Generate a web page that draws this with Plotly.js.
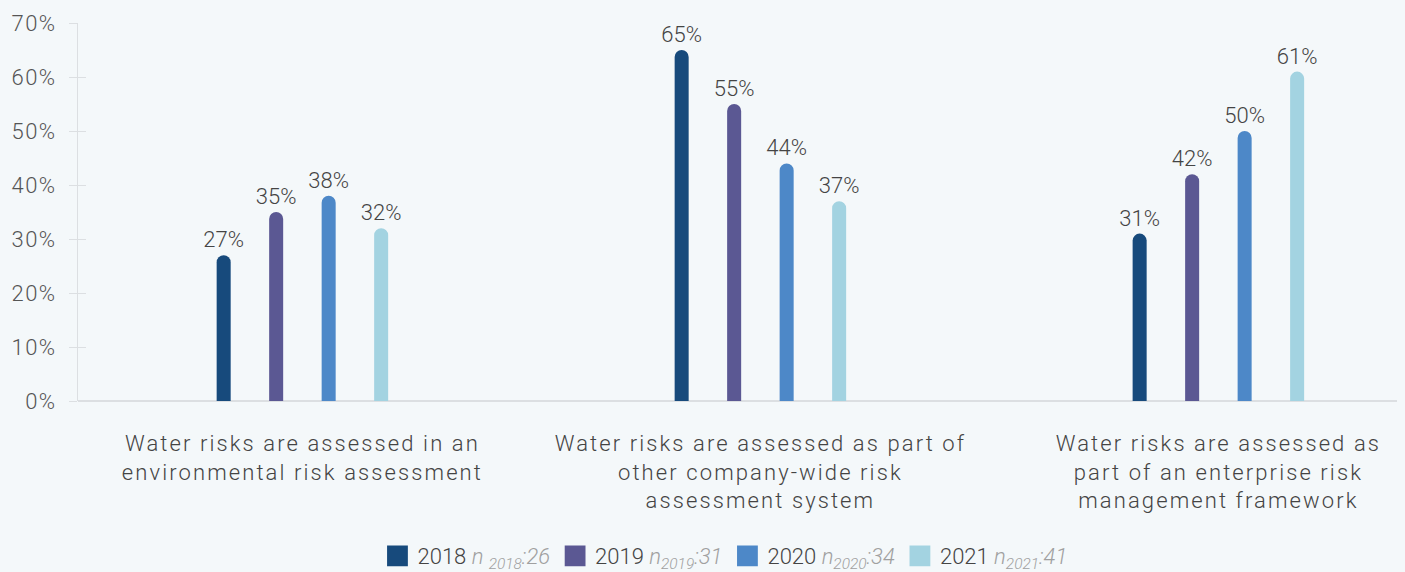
<!DOCTYPE html>
<html>
<head>
<meta charset="utf-8">
<script src="https://cdn.plot.ly/plotly-3.0.1.min.js"></script>
<style>
html,body{margin:0;padding:0;background:#f4f8fa;}
#chart{width:1405px;height:572px;}
#chart .xtick text {letter-spacing:2.1px;}
#chart .ytick text, #chart .textpoint text {letter-spacing:1.5px;}
#chart .legendpoints path.scatterpts {transform: translate(20px,0px) scale(1.3);}
</style>
</head>
<body>
<div id="chart"></div>
<script>
const categories = [
  "Water risks are assessed in an<br>environmental risk assessment",
  "Water risks are assessed as part of<br>other company-wide risk<br>assessment system",
  "Water risks are assessed as<br>part of an enterprise risk<br>management framework"
];
const years = ["2018", "2019", "2020", "2021"];
const sampleSizes = [26, 31, 34, 41];
const values2018 = [27, 65, 31];
const values2019 = [35, 55, 42];
const values2020 = [38, 44, 50];
const values2021 = [32, 37, 61];
const seriesValues = [values2018, values2019, values2020, values2021];
const colors = ["#174a7c", "#5b5893", "#4d88c8", "#a3d3e1"];
const yTickVals = [0, 10, 20, 30, 40, 50, 60, 70];
const yTickText = ["0%", "10%", "20%", "30%", "40%", "50%", "60%", "70%"];

const legendNames = years.map((y, i) =>
  y + ' <span style="color:#a0a0a0"><i>n' + (i === 0 ? ' ' : '') + '<sub>' + y + '</sub>:' + sampleSizes[i] + '</i></span>'
);

const traces = seriesValues.map((vals, i) => ({
  type: 'bar',
  x: categories,
  y: vals,
  name: legendNames[i],
  showlegend: false,
  marker: { color: colors[i], cornerradius: 7 },
  text: vals.map(v => v + '%'),
  textposition: 'outside',
  constraintext: 'none',
  textfont: { family: 'Roboto, sans-serif', size: 22, color: '#444', weight: 300 },
  cliponaxis: false,
  hoverinfo: 'none'
}));

// legend-only entries with square swatches
years.forEach((y, i) => {
  traces.push({
    type: 'scatter', x: [categories[0]], y: [null], mode: 'markers',
    name: legendNames[i],
    marker: { symbol: 'square', size: 16, color: colors[i] },
    hoverinfo: 'none'
  });
});

// helper trace for inward ticks
traces.push({ type: 'scatter', x: [categories[0]], y: [null], yaxis: 'y2', mode: 'markers', marker: { opacity: 0 }, showlegend: false, hoverinfo: 'none' });

const layout = {
  width: 1405, height: 572,
  paper_bgcolor: '#f4f8fa', plot_bgcolor: '#f4f8fa',
  margin: { l: 78, r: 8, t: 23, b: 171, autoexpand: false },
  font: { family: 'Roboto, sans-serif', color: '#444', weight: 300 },
  barmode: 'group',
  bargap: 0.5415,
  bargroupgap: 0.733,
  showlegend: true,
  legend: {
    orientation: 'h', x: 0.4905, xanchor: 'center', y: -0.41, yanchor: 'middle',
    font: { size: 22, color: '#444', weight: 300 }, traceorder: 'normal',
    bgcolor: 'rgba(0,0,0,0)'
  },
  xaxis: {
    type: 'category', range: [-0.49, 2.39], automargin: false,
    tickfont: { size: 22, color: '#444', weight: 300 },
    showgrid: false, zeroline: false, showline: false, ticks: '',
    ticklabelstandoff: 27
  },
  yaxis: {
    range: [0, 70], tickvals: yTickVals, ticktext: yTickText, automargin: false,
    tickfont: { size: 22, color: '#555', weight: 300 },
    showgrid: false, zeroline: true, zerolinecolor: '#dcdfe2', zerolinewidth: 1.5,
    showline: true, linecolor: '#dcdfe2', linewidth: 1,
    ticks: 'outside', ticklen: 8, tickcolor: '#dcdfe2', ticklabelstandoff: 8
  },
  yaxis2: {
    overlaying: 'y', side: 'left', range: [0, 70], tickvals: yTickVals, automargin: false,
    showticklabels: false, ticks: 'inside', ticklen: 8, tickcolor: '#dcdfe2',
    showgrid: false, zeroline: false, showline: false
  }
};

Plotly.newPlot('chart', traces, layout, { displayModeBar: false, staticPlot: true });
</script>
</body>
</html>
